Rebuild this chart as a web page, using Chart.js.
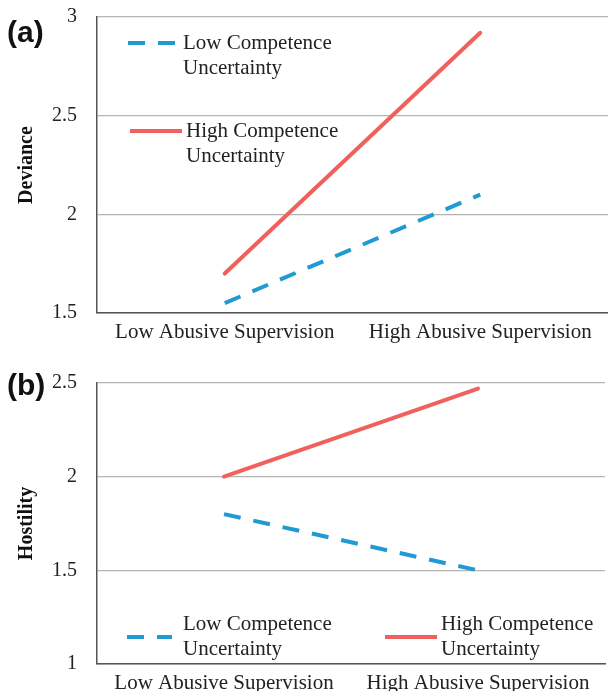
<!DOCTYPE html>
<html>
<head>
<meta charset="utf-8">
<script src="https://cdn.jsdelivr.net/npm/chart.js@4/dist/chart.umd.min.js"></script>
<style>
  html, body { margin: 0; padding: 0; background: #fff; }
  #page { position: relative; width: 608px; height: 691px; overflow: hidden; }
  .panel { position: absolute; left: 0; width: 608px; }
  .tag { position: absolute; left: 7px; font: bold 30px "Liberation Sans", Arial, sans-serif; color: #111; }
</style>
</head>
<body>
<div id="page">
  <div class="panel" style="top:0;height:345px"><canvas id="chart-a"></canvas></div>
  <div class="panel" style="top:345px;height:346px"><canvas id="chart-b"></canvas></div>
  <div class="tag" style="top:15px">(a)</div>
  <div class="tag" style="top:368px">(b)</div>
</div>
<script>
// ── Data ────────────────────────────────────────────────────────────────────────
const categories   = ['Low Abusive Supervision', 'High Abusive Supervision'];
const seriesNames  = [['Low Competence', 'Uncertainty'], ['High Competence', 'Uncertainty']];

const devianceLowCU  = [1.55, 2.10];
const devianceHighCU = [1.70, 2.92];
const hostilityLowCU  = [1.80, 1.50];
const hostilityHighCU = [2.00, 2.47];

// ── Style ───────────────────────────────────────────────────────────────────────
const BLUE  = '#1f9ad2';
const RED   = '#f0605c';
const GRID  = '#b4b4b4';
const AXIS  = '#555555';
const SERIF = '"Liberation Serif", "Times New Roman", serif';

// Draws a legend inside the plot area, at positions given per dataset.
const insideLegend = {
  id: 'insideLegend',
  afterDraw(chart, args, opts) {
    const ctx = chart.ctx;
    ctx.save();
    ctx.font = `21px ${SERIF}`;
    ctx.fillStyle = '#222';
    ctx.textBaseline = 'middle';
    chart.data.datasets.forEach((ds, i) => {
      const p = opts.items[i];
      if (!p) return;
      ctx.strokeStyle = ds.borderColor;
      ctx.lineWidth = ds.borderWidth;
      ctx.lineCap = 'butt';
      ctx.setLineDash(ds.borderDash || []);
      ctx.beginPath();
      ctx.moveTo(p.x0, p.y);
      ctx.lineTo(p.x1, p.y);
      ctx.stroke();
      ctx.setLineDash([]);
      const lines = Array.isArray(ds.label) ? ds.label : [ds.label];
      lines.forEach((t, k) => ctx.fillText(t, p.tx, p.ty + k * 25));
    });
    ctx.restore();
  }
};

function makeChart(id, title, low, high, yMin, yMax, legendItems, padRight, topPad, xHeight) {
  return new Chart(document.getElementById(id).getContext('2d'), {
    type: 'line',
    data: {
      labels: categories,
      datasets: [
        { label: seriesNames[0], data: low, borderColor: BLUE, backgroundColor: BLUE,
          borderWidth: 4, borderDash: [17, 13], pointRadius: 0, tension: 0, fill: false },
        { label: seriesNames[1], data: high, borderColor: RED, backgroundColor: RED,
          borderWidth: 4, borderCapStyle: 'round', pointRadius: 0, tension: 0, fill: false }
      ]
    },
    plugins: [insideLegend],
    options: {
      responsive: true,
      maintainAspectRatio: false,
      animation: false,
      layout: { padding: { top: topPad, right: padRight, left: 0, bottom: 0 } },
      plugins: {
        legend: { display: false },
        tooltip: { enabled: false },
        insideLegend: { items: legendItems }
      },
      scales: {
        x: {
          offset: true,
          grid: { display: false, drawTicks: false },
          border: { display: true, color: AXIS, width: 1.5 },
          ticks: { color: '#222', padding: 6.5, maxRotation: 0, font: { family: SERIF, size: 21 } },
          afterFit: s => { s.height = xHeight; }
        },
        y: {
          min: yMin, max: yMax,
          ticks: { stepSize: 0.5, color: '#222', padding: 0, font: { family: SERIF, size: 20 },
                   callback: v => String(v) },
          // invisible tick marks hold the labels 20px off the axis without padding the plot
          grid: { color: GRID, lineWidth: 1.2, drawTicks: true, tickLength: 20, tickColor: 'rgba(0,0,0,0)' },
          border: { display: true, color: AXIS, width: 1.5 },
          title: { display: true, text: title, color: '#111', padding: { top: 15, bottom: 0 },
                   font: { family: SERIF, size: 20, weight: 'bold' } },
          afterFit: s => { s.width = 97; }
        }
      }
    }
  });
}

makeChart('chart-a', 'Deviance', devianceLowCU, devianceHighCU, 1.5, 3,
  [ { x0: 128, x1: 178, y: 43, tx: 183, ty: 43 },
    { x0: 130, x1: 182, y: 131, tx: 186, ty: 131 } ],
  0, 17, 32);

makeChart('chart-b', 'Hostility', hostilityLowCU, hostilityHighCU, 1, 2.5,
  [ { x0: 127, x1: 172, y: 292, tx: 183, ty: 279 },
    { x0: 385, x1: 437, y: 292, tx: 441, ty: 279 } ],
  3, 38, 27);
</script>
</body>
</html>
